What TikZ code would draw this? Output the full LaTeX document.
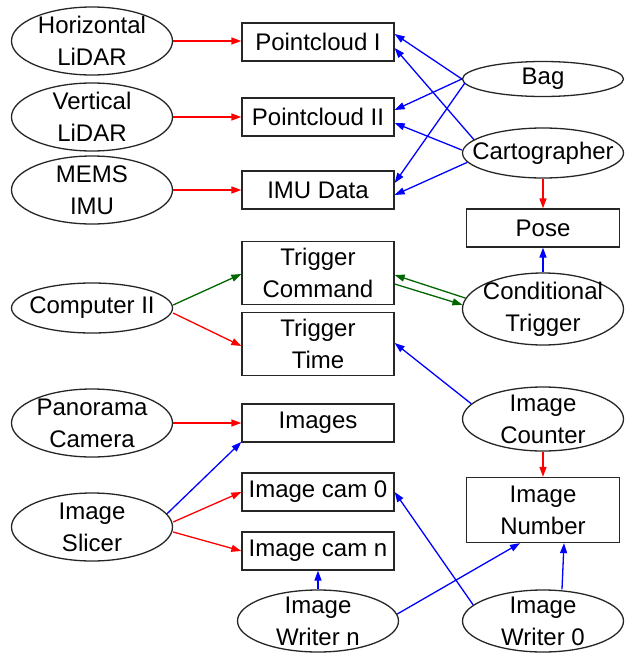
\documentclass[tikz,border=0pt]{standalone}
\usepackage{fontspec}
\setmainfont{Liberation Sans}
\usetikzlibrary{shapes.geometric,arrows.meta}
\begin{document}
\begin{tikzpicture}[x=1pt,y=-1pt,
  every node/.style={font=\fontsize{24}{32}\selectfont, align=center,
    inner sep=0pt, draw=black!85, line width=1.3pt},
  srcnode/.style={ellipse, inner xsep=-30pt, inner ysep=-20pt,
    minimum width=161pt, minimum height=#1},
  srcnode/.default=68pt,
  datanode/.style={rectangle, minimum width=152pt, minimum height=#1},
  datanode/.default=38pt,
  link/.style={line width=1.3pt, -{Triangle[length=10pt,width=7pt]}},
  redarrow/.style={link, red},
  bluearrow/.style={link, blue},
  greenarrow/.style={link, green!40!black}]
\useasboundingbox (0,0) rectangle (627,654);

% sources on the left
\node[srcnode] (hl) at (92,41) {Horizontal\\LiDAR};
\node[srcnode] (vl) at (92,117) {Vertical\\LiDAR};
\node[srcnode] (mems) at (92,190) {MEMS\\IMU};
\node[srcnode=50pt] (comp) at (92,308) {Computer II};
\node[srcnode] (pano) at (92,423) {Panorama\\Camera};
\node[srcnode] (slicer) at (92,527) {Image\\Slicer};

% data in the middle
\node[datanode] (pc1) at (318,42) {Pointcloud I};
\node[datanode] (pc2) at (318,117) {Pointcloud II};
\node[datanode] (imu) at (318,190) {IMU Data};
\node[datanode=63pt] (tcmd) at (318,273) {Trigger\\Command};
\node[datanode=63pt] (ttime) at (318,344) {Trigger\\Time};
\node[datanode] (images) at (318,423) {Images};
\node[datanode] (cam0) at (318,492) {Image cam 0};
\node[datanode] (camn) at (318,551) {Image cam n};

% right column
\node[srcnode=35pt] (bag) at (543,79) {Bag};
\node[srcnode=50pt] (cart) at (543,153) {Cartographer};
\node[datanode, minimum width=153pt] (pose) at (543,228) {Pose};
\node[srcnode=72pt] (cond) at (543,309) {Conditional\\Trigger};
\node[srcnode=64pt] (counter) at (543,419) {Image\\Counter};
\node[datanode=65pt, minimum width=153pt] (number) at (543,510) {Image\\Number};
\node[srcnode=62pt] (w0) at (543,621) {Image\\Writer 0};
\node[srcnode=62pt] (wn) at (318,621) {Image\\Writer n};

% sensor streams
\draw[redarrow] (hl.east) -- (hl.east -| pc1.west);
\draw[redarrow] (vl.east) -- (vl.east -| pc2.west);
\draw[redarrow] (mems.east) -- (mems.east -| imu.west);

% bag and cartographer outputs
\draw[bluearrow] (bag.west) -- ([yshift=8pt]pc1.east);
\draw[bluearrow] (bag.west) -- ([yshift=7pt]pc2.east);
\draw[bluearrow] ([xshift=3pt,yshift=-4pt]bag.west) -- ([yshift=7pt]imu.east);
\draw[bluearrow] (cart.169) -- ([yshift=-6pt]pc1.east);
\draw[bluearrow] ([yshift=3pt]cart.west) -- ([yshift=-6pt]pc2.east);
\draw[bluearrow] (cart.187) -- ([yshift=-5pt]imu.east);
\draw[redarrow] (cart) -- (pose);
\draw[bluearrow] (cond) -- (pose);

% triggering
\draw[greenarrow] ([yshift=3pt]comp.east) -- ([yshift=-1pt]tcmd.west);
\draw[redarrow] ([yshift=-5pt]comp.east) -- ([yshift=-2pt]ttime.west);
\draw[greenarrow] (cond.172) -- ([yshift=-2pt]tcmd.east);
\draw[greenarrow] ([yshift=-11pt]tcmd.east) -- (cond.177);
\draw[bluearrow] (counter.168) -- ([yshift=1pt]ttime.east);
\draw[redarrow] (counter) -- (number);

% images
\draw[redarrow] (pano.east) -- (pano.east -| images.west);
\draw[bluearrow] (slicer.10) -- ([yshift=-19pt]images.west);
\draw[redarrow] ([yshift=5pt]slicer.east) -- (cam0.west);
\draw[redarrow] ([yshift=-5pt]slicer.east) -- (camn.west);
\draw[bluearrow] (wn) -- (camn);
\draw[bluearrow] (wn.5) -- ([xshift=-23pt]number.south);
\draw[bluearrow] (w0.167) -- (cam0.east);
\draw[bluearrow] ([xshift=19pt]w0.north) -- ([xshift=21pt]number.south);
\end{tikzpicture}
\end{document}
